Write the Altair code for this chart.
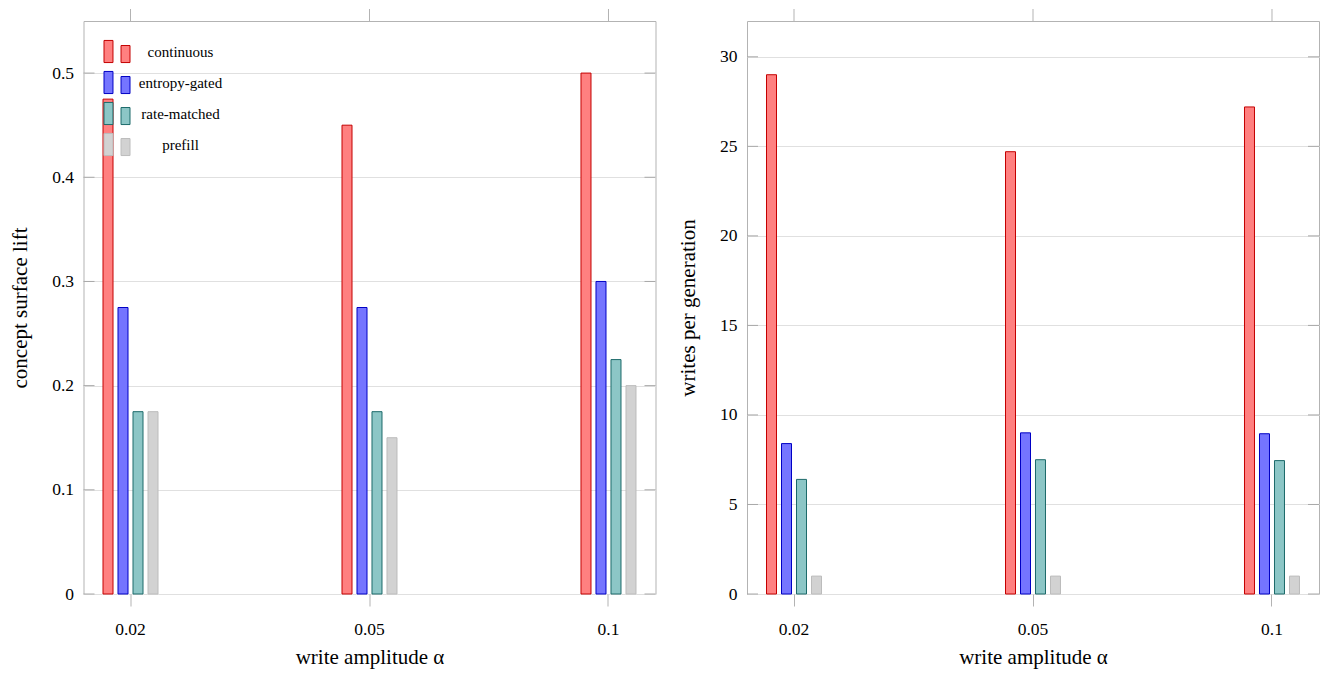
import altair as alt
import pandas as pd

alphas = ["0.02", "0.05", "0.1"]
methods = ["continuous", "entropy-gated", "rate-matched", "prefill"]

lift_continuous = [0.475, 0.45, 0.5]
lift_entropy = [0.275, 0.275, 0.3]
lift_rate = [0.175, 0.175, 0.225]
lift_prefill = [0.175, 0.15, 0.2]

writes_continuous = [29.0, 24.7, 27.2]
writes_entropy = [8.4, 9.0, 8.95]
writes_rate = [6.4, 7.5, 7.45]
writes_prefill = [1.0, 1.0, 1.0]

lift_ticks = [0, 0.1, 0.2, 0.3, 0.4, 0.5]
writes_ticks = [0, 5, 10, 15, 20, 25, 30]

fills = ["#ff8080", "#7575ff", "#8cc6c6", "#d2d2d2"]
strokes = ["#c40000", "#0000c4", "#1c6a6a", "#bcbcbc"]

FONT = "Liberation Serif"
W, H = 572, 573
TICK_IN = 11


def make_df(series):
    rows = []
    for m, vals in zip(methods, series):
        for a, v in zip(alphas, vals):
            rows.append({"alpha": a, "method": m, "value": v})
    return pd.DataFrame(rows)


lift_df = make_df([lift_continuous, lift_entropy, lift_rate, lift_prefill])
writes_df = make_df([writes_continuous, writes_entropy, writes_rate, writes_prefill])

legend_path = ("M-1,-0.85 L-0.31,-0.85 L-0.31,0.85 L-1,0.85 Z "
               "M0.31,-0.46 L1,-0.46 L1,0.85 L0.31,0.85 Z")


def panel(df, ticks, ymax, ytitle, fmt, show_legend):
    xscale = alt.Scale(paddingInner=0.749, paddingOuter=0.0712)
    yscale = alt.Scale(domain=[0, ymax], nice=False, zero=True)
    yaxis = alt.Axis(values=ticks, format=fmt, title=ytitle, ticks=False,
                     domain=False, grid=True, gridColor="#e0e0e0",
                     labelPadding=10, titlePadding=21.5)
    if show_legend:
        leg = alt.Legend(orient="none", legendX=20, legendY=17, title=None,
                         symbolType=legend_path, symbolSize=676,
                         symbolStrokeWidth=1, labelFont=FONT,
                         labelFontSize=15, labelAlign="center",
                         labelOffset=50, rowPadding=4, padding=0,
                         labelColor="black")
    else:
        leg = None
    bars = alt.Chart(df).mark_bar(strokeWidth=1).encode(
        x=alt.X("alpha:N", sort=alphas, scale=xscale,
                axis=alt.Axis(orient="bottom", title="write amplitude α",
                              labelAngle=0, tickSize=12, domain=False,
                              grid=False, labelPadding=14, titlePadding=9)),
        xOffset=alt.XOffset("method:N", sort=methods,
                            scale=alt.Scale(paddingInner=1 / 3,
                                            paddingOuter=1 / 6)),
        y=alt.Y("value:Q", scale=yscale, axis=yaxis),
        fill=alt.Fill("method:N", sort=methods,
                      scale=alt.Scale(domain=methods, range=fills), legend=leg),
        stroke=alt.Stroke("method:N", sort=methods,
                          scale=alt.Scale(domain=methods, range=strokes),
                          legend=leg),
    )
    adf = pd.DataFrame({"alpha": alphas})
    top = alt.Chart(adf).mark_rule(color="#b3b3b3", strokeWidth=1).encode(
        x=alt.X("alpha:N", sort=alphas),
        y=alt.value(-12), y2=alt.value(0),
    )
    tdf = pd.DataFrame({"value": ticks})
    left_ticks = alt.Chart(tdf).mark_rule(color="#a8a8a8", strokeWidth=1).encode(
        x=alt.value(0), x2=alt.value(TICK_IN),
        y=alt.Y("value:Q"))
    right_ticks = alt.Chart(tdf).mark_rule(color="#a8a8a8", strokeWidth=1).encode(
        x=alt.value(W - TICK_IN), x2=alt.value(W),
        y=alt.Y("value:Q"))
    return alt.layer(bars, top, left_ticks, right_ticks).properties(
        width=W, height=H)


left = panel(lift_df, lift_ticks, 0.55, "concept surface lift", "~g", True)
right = panel(writes_df, writes_ticks, 32, "writes per generation", "d", False)

chart = alt.hconcat(left, right, spacing=19.5).resolve_scale(
    fill="independent", stroke="independent"
).properties(
    padding={"left": 8.5, "top": 8, "right": 5, "bottom": 5},
    background="white",
).configure_view(
    stroke="#b3b3b3", strokeWidth=1
).configure_axis(
    labelFont=FONT, labelFontSize=17.5, labelColor="black",
    titleFont=FONT, titleFontSize=21, titleFontWeight="normal",
    titleColor="black", tickColor="#b3b3b3", tickWidth=1,
)

chart.save("out.html", embed_options={"renderer": "svg", "actions": False})
